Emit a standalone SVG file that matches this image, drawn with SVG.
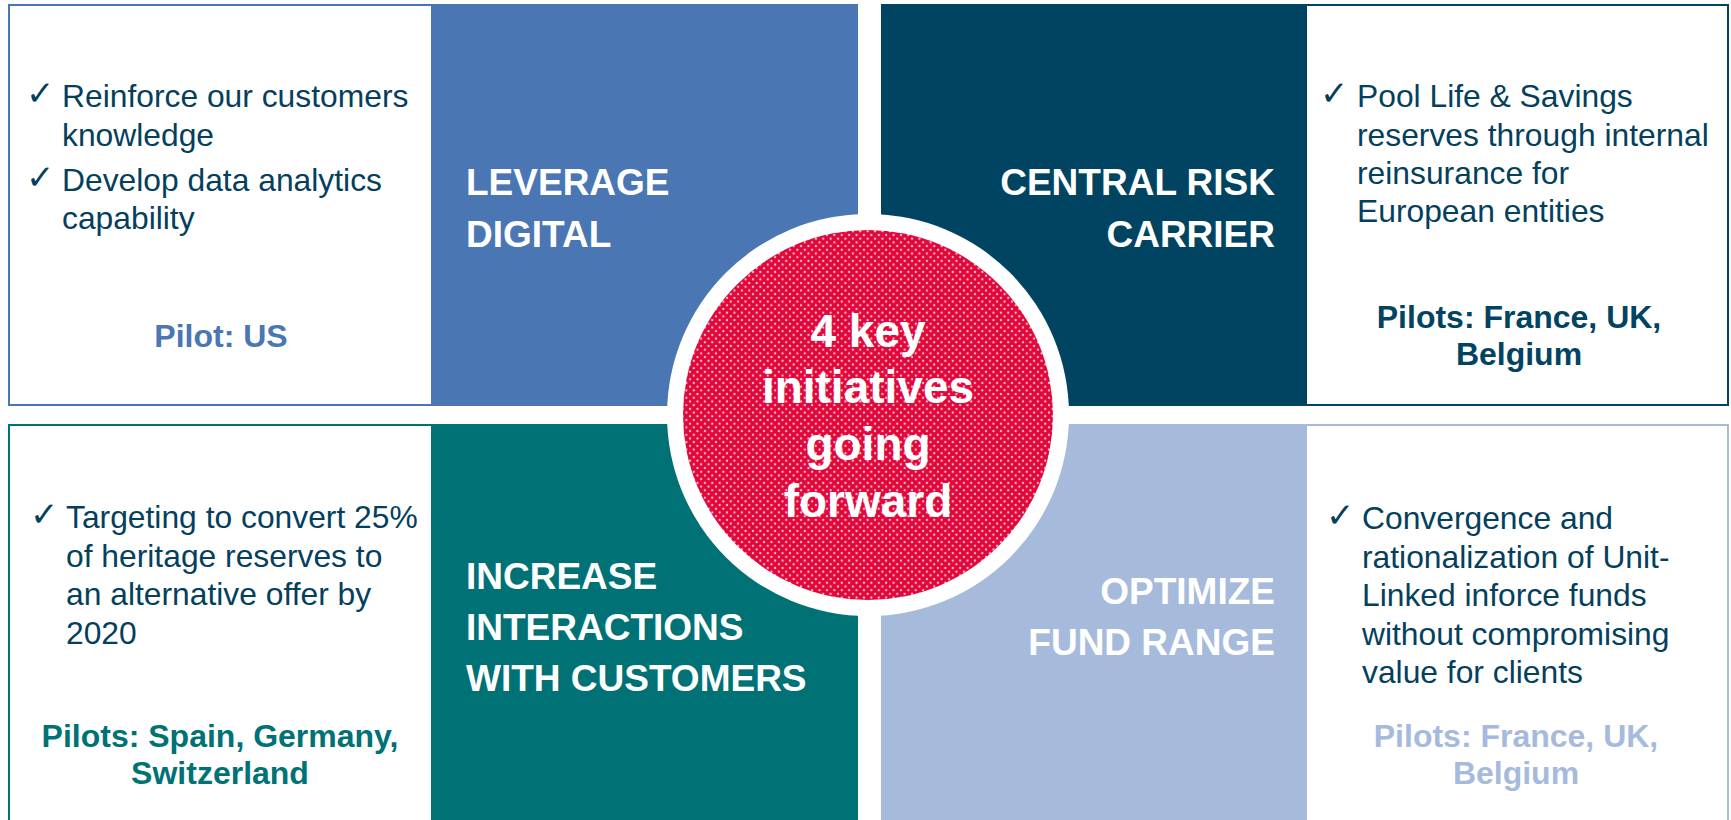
<svg xmlns="http://www.w3.org/2000/svg" width="1731" height="820" viewBox="0 0 1731 820">
  <style>
    .body { font-family: "Liberation Sans", Arial, sans-serif; font-size: 31.8px; fill: #053F5E; }
    .tick { font-family: "DejaVu Sans", sans-serif; font-weight: bold; font-size: 34px; fill: #053F5E; }
    .head { font-family: "Liberation Sans", Arial, sans-serif; font-weight: bold; font-size: 37px; fill: #FFFFFF; }
    .pilot { font-family: "Liberation Sans", Arial, sans-serif; font-weight: bold; font-size: 32px; text-anchor: middle; }
    .hub { font-family: "Liberation Sans", Arial, sans-serif; font-weight: bold; font-size: 46px; fill: #FFFFFF; text-anchor: middle; }
  </style>
  <defs>
    <pattern id="dots" x="0" y="0" width="7.4" height="7.4" patternUnits="userSpaceOnUse">
      <rect width="7.4" height="7.4" fill="#E2073B"/>
      <circle cx="1.85" cy="1.85" r="1.15" fill="#FFFFFF" fill-opacity="0.75"/>
      <circle cx="5.55" cy="5.55" r="1.15" fill="#FFFFFF" fill-opacity="0.75"/>
    </pattern>
  </defs>

  <rect width="1731" height="820" fill="#FFFFFF"/>

  <!-- Leverage digital -->
  <g id="leverage-digital">
    <rect x="9" y="5" width="848" height="400" fill="#FFFFFF" stroke="#4A77B4" stroke-width="2"/>
    <rect x="431" y="4" width="427" height="402" fill="#4A77B4"/>
    <text class="head" x="466" y="195">LEVERAGE</text>
    <text class="head" x="466" y="247">DIGITAL</text>
    <text class="tick" x="26" y="105">✓</text>
    <text class="body" x="62" y="107">Reinforce our customers</text>
    <text class="body" x="62" y="146">knowledge</text>
    <text class="tick" x="26" y="189">✓</text>
    <text class="body" x="62" y="191">Develop data analytics</text>
    <text class="body" x="62" y="229">capability</text>
    <text class="pilot" x="221" y="347" fill="#4A77B4">Pilot: US</text>
  </g>

  <!-- Central risk carrier -->
  <g id="central-risk-carrier">
    <rect x="882" y="5" width="846" height="400" fill="#FFFFFF" stroke="#004462" stroke-width="2"/>
    <rect x="881" y="4" width="426" height="402" fill="#004462"/>
    <text class="head" x="1275" y="195" text-anchor="end">CENTRAL RISK</text>
    <text class="head" x="1275" y="247" text-anchor="end">CARRIER</text>
    <text class="tick" x="1320" y="105">✓</text>
    <text class="body" x="1357" y="107">Pool Life &amp; Savings</text>
    <text class="body" x="1357" y="146">reserves through internal</text>
    <text class="body" x="1357" y="184">reinsurance for</text>
    <text class="body" x="1357" y="222">European entities</text>
    <text class="pilot" x="1519" y="328" fill="#004462">Pilots: France, UK,</text>
    <text class="pilot" x="1519" y="365" fill="#004462">Belgium</text>
  </g>

  <!-- Increase interactions with customers -->
  <g id="increase-interactions">
    <rect x="9" y="425" width="848" height="410" fill="#FFFFFF" stroke="#007276" stroke-width="2"/>
    <rect x="431" y="424" width="427" height="400" fill="#007276"/>
    <text class="head" x="466" y="589">INCREASE</text>
    <text class="head" x="466" y="640">INTERACTIONS</text>
    <text class="head" x="466" y="691">WITH CUSTOMERS</text>
    <text class="tick" x="30" y="526">✓</text>
    <text class="body" x="66" y="528">Targeting to convert 25%</text>
    <text class="body" x="66" y="567">of heritage reserves to</text>
    <text class="body" x="66" y="605">an alternative offer by</text>
    <text class="body" x="66" y="644">2020</text>
    <text class="pilot" x="220" y="747" fill="#007276">Pilots: Spain, Germany,</text>
    <text class="pilot" x="220" y="784" fill="#007276">Switzerland</text>
  </g>

  <!-- Optimize fund range -->
  <g id="optimize-fund-range">
    <rect x="882" y="425" width="846" height="410" fill="#FFFFFF" stroke="#A6BBDC" stroke-width="2"/>
    <rect x="881" y="424" width="426" height="400" fill="#A6BBDC"/>
    <text class="head" x="1275" y="604" text-anchor="end">OPTIMIZE</text>
    <text class="head" x="1275" y="655" text-anchor="end">FUND RANGE</text>
    <text class="tick" x="1326" y="527">✓</text>
    <text class="body" x="1362" y="529">Convergence and</text>
    <text class="body" x="1362" y="568">rationalization of Unit-</text>
    <text class="body" x="1362" y="606">Linked inforce funds</text>
    <text class="body" x="1362" y="645">without compromising</text>
    <text class="body" x="1362" y="683">value for clients</text>
    <text class="pilot" x="1516" y="747" fill="#A6BBDC">Pilots: France, UK,</text>
    <text class="pilot" x="1516" y="784" fill="#A6BBDC">Belgium</text>
  </g>

  <!-- Central hub -->
  <g id="hub">
    <circle cx="868" cy="415" r="201" fill="#FFFFFF"/>
    <circle cx="868" cy="415" r="185" fill="url(#dots)"/>
    <text class="hub" x="868" y="347">4 key</text>
    <text class="hub" x="868" y="403">initiatives</text>
    <text class="hub" x="868" y="460">going</text>
    <text class="hub" x="868" y="517">forward</text>
  </g>

  <g id="connectors"/>
</svg>
